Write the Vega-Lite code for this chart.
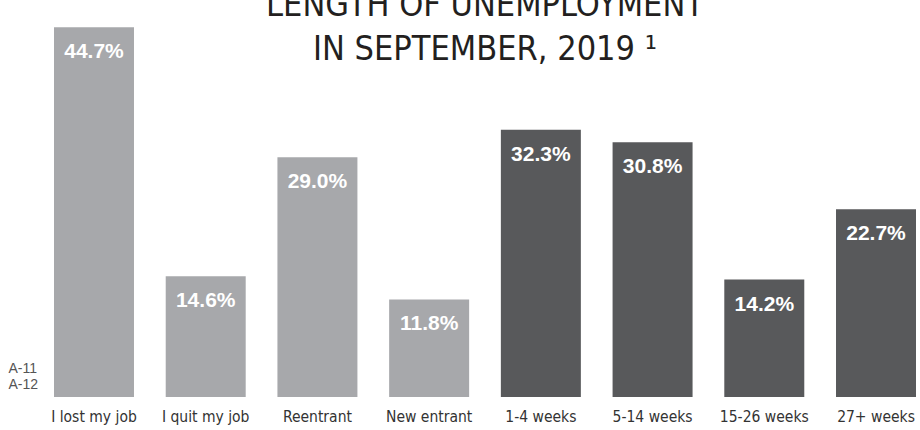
{
  "$schema": "https://vega.github.io/schema/vega-lite/v6.json",
  "width": 862,
  "height": 397,
  "autosize": {"type": "none"},
  "padding": {"left": 54, "top": 0, "right": 4, "bottom": 33},
  "background": "white",
  "title": {
    "text": ["LENGTH OF UNEMPLOYMENT", "IN SEPTEMBER, 2019 ¹"],
    "anchor": "middle",
    "frame": "group",
    "baseline": "bottom",
    "offset": -101,
    "font": "DejaVu Sans Condensed, Roboto, sans-serif",
    "fontSize": 34,
    "fontWeight": "normal",
    "color": "#231f20",
    "lineHeight": 44
  },
  "data": {
    "values": [
      {"category": "I lost my job", "group": "reason", "share": 0.447},
      {"category": "I quit my job", "group": "reason", "share": 0.146},
      {"category": "Reentrant", "group": "reason", "share": 0.290},
      {"category": "New entrant", "group": "reason", "share": 0.118},
      {"category": "1-4 weeks", "group": "duration", "share": 0.323},
      {"category": "5-14 weeks", "group": "duration", "share": 0.308},
      {"category": "15-26 weeks", "group": "duration", "share": 0.142},
      {"category": "27+ weeks", "group": "duration", "share": 0.227}
    ]
  },
  "encoding": {
    "x": {
      "field": "category",
      "type": "nominal",
      "sort": null,
      "scale": {"paddingInner": 0.284, "paddingOuter": 0},
      "axis": {
        "title": null,
        "domain": false,
        "ticks": false,
        "grid": false,
        "labelAngle": 0,
        "labelPadding": 12,
        "labelFont": "DejaVu Sans Condensed, Roboto, sans-serif",
        "labelFontSize": 15.5,
        "labelColor": "#333333"
      }
    },
    "y": {
      "field": "share",
      "type": "quantitative",
      "scale": {"domain": [0, 0.48]},
      "axis": {
        "domain": false,
        "ticks": false,
        "labels": false,
        "grid": false,
        "title": ["A-11", "A-12"],
        "titleAngle": 0,
        "titleAlign": "left",
        "titleBaseline": "alphabetic",
        "titleX": -46,
        "titleY": 372,
        "titleFont": "Liberation Sans",
        "titleFontSize": 14,
        "titleFontWeight": "normal",
        "titleColor": "#555555",
        "titleLineHeight": 16
      }
    }
  },
  "layer": [
    {
      "mark": {"type": "bar"},
      "encoding": {
        "color": {
          "field": "group",
          "type": "nominal",
          "scale": {"domain": ["reason", "duration"], "range": ["#a7a8ab", "#58595b"]},
          "legend": null
        }
      }
    },
    {
      "mark": {
        "type": "text",
        "baseline": "top",
        "dy": 14,
        "color": "white",
        "font": "Liberation Sans",
        "fontWeight": "bold",
        "fontSize": 21
      },
      "encoding": {
        "text": {"field": "share", "type": "quantitative", "format": ".1%"}
      }
    }
  ],
  "config": {"view": {"stroke": null}}
}
